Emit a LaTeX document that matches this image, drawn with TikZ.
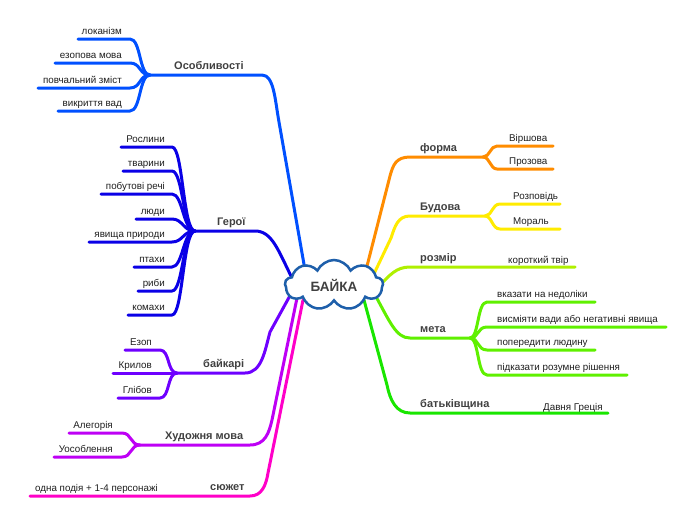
\documentclass[tikz,border=0pt]{standalone}
\usepackage{fontspec}
\setmainfont{Liberation Sans}
\usetikzlibrary{shapes.symbols}
\definecolor{osc}{RGB}{0,80,255}
\definecolor{herc}{RGB}{10,0,230}
\definecolor{bayc}{RGB}{110,0,255}
\definecolor{hudc}{RGB}{190,0,245}
\definecolor{syuc}{RGB}{255,0,200}
\definecolor{forc}{RGB}{255,140,0}
\definecolor{budc}{RGB}{255,235,0}
\definecolor{rozc}{RGB}{175,240,0}
\definecolor{metc}{RGB}{95,240,0}
\definecolor{batc}{RGB}{25,230,0}
\definecolor{cloudc}{RGB}{30,95,170}
\definecolor{leafc}{RGB}{30,30,30}
\definecolor{mainc}{RGB}{64,64,64}
\begin{document}
\begin{tikzpicture}[x=1pt,y=-1pt,
  br/.style={line width=3pt,line cap=round,line join=round},
  lf/.style={font=\fontsize{9.8}{11}\selectfont, text=leafc, inner sep=0pt},
  lfL/.style={lf,anchor=base east},
  lfR/.style={lf,anchor=base west},
  mn/.style={font=\fontsize{11}{13}\selectfont\bfseries, text=mainc, inner sep=0pt, anchor=base west}]
\path[use as bounding box] (0,0) rectangle (696,520);
\coordinate (ctr) at (334,285);

% ---------- Особливості ----------
\coordinate (osH) at (150,75); \coordinate (osE) at (262,75); \coordinate (osC) at (305,270);
\node[mn] (os) at (174,69) {Особливості};
\draw[br,osc] (osH) -- (osE) .. controls (274,75) and (275,100) .. (279,122) -- (osC);
\foreach \n/\sx/\y/\t in {1/78/39/локанізм, 2/55/63/езопова мова, 3/38/88/повчальний зміст, 4/58/111/викриття вад}{
  \coordinate (osa\n) at (\sx,\y); \coordinate (osb\n) at (130,\y);
  \node[lfL] (osl\n) at (122,\y-5) {\t};
  \draw[br,osc] (osa\n) -- (osb\n) .. controls (141,\y) and (139,75) .. (osH);
}

% ---------- Герої ----------
\coordinate (heH) at (195,231); \coordinate (heE) at (255,231); \coordinate (heC) at (292,278);
\node[mn] (he) at (217,225) {Герої};
\draw[br,herc] (heH) -- (heE) .. controls (272,231) and (278,250) .. (heC);
\foreach \n/\sx/\y/\t in {1/121/147/Рослини, 2/123/171/тварини, 3/101/194/побутові речі, 4/136/219/люди, 5/89/242/явища природи, 6/134/267/птахи, 7/138/291/риби, 8/128/315/комахи}{
  \coordinate (hea\n) at (\sx,\y); \coordinate (heb\n) at (172,\y);
  \node[lfL] (hel\n) at (165,\y-5) {\t};
  \draw[br,herc] (hea\n) -- (heb\n) .. controls (183,\y) and (183,231) .. (heH);
}

% ---------- байкарі ----------
\coordinate (baH) at (177,373); \coordinate (baE) at (245,373); \coordinate (baC) at (292,292);
\node[mn] (ba) at (203,367) {байкарі};
\draw[br,bayc] (baH) -- (baE) .. controls (262,373) and (265,350) .. (270,332) -- (baC);
\foreach \n/\sx/\y/\t in {1/125/350/Езоп, 3/118/398/Глібов}{
  \coordinate (baa\n) at (\sx,\y); \coordinate (bab\n) at (160,\y);
  \node[lfL] (bal\n) at (152,\y-5) {\t};
  \draw[br,bayc] (baa\n) -- (bab\n) .. controls (170,\y) and (167,373) .. (baH);
}
\coordinate (baa2) at (113,373);
\node[lfL] (bal2) at (152,368) {Крилов};
\draw[br,bayc] (baa2) -- (baH);

% ---------- Художня мова ----------
\coordinate (huH) at (140,445); \coordinate (huE) at (250,445); \coordinate (huC) at (297,298);
\node[mn] (hu) at (165,439) {Художня мова};
\draw[br,hudc] (huH) -- (huE) .. controls (265,445) and (269,433) .. (272,420) -- (huC);
\foreach \n/\sx/\y/\t in {1/69/433/Алегорія, 2/54/457/Уособлення}{
  \coordinate (hua\n) at (\sx,\y); \coordinate (hub\n) at (122,\y);
  \node[lfL] (hul\n) at (113,\y-5) {\t};
  \draw[br,hudc] (hua\n) -- (hub\n) .. controls (132,\y) and (130,445) .. (huH);
}

% ---------- сюжет ----------
\coordinate (syS) at (30,496); \coordinate (syE) at (250,496); \coordinate (syC) at (303,300);
\node[mn] (sy) at (210,490) {сюжет};
\node[lfR] (syl) at (35,491) {одна подія + 1-4 персонажі};
\draw[br,syuc] (syS) -- (syE) .. controls (262,496) and (266,485) .. (268,473) -- (syC);

% ---------- форма ----------
\coordinate (foH) at (483,157); \coordinate (foE) at (410,157); \coordinate (foC) at (366,270);
\node[mn] (fo) at (420,151) {форма};
\draw[br,forc] (foH) -- (foE) .. controls (396,157) and (393,165) .. (390,176) -- (foC);
\foreach \n/\y/\t in {1/146/Віршова, 2/169/Прозова}{
  \coordinate (foa\n) at (497,\y); \coordinate (fob\n) at (553,\y);
  \node[lfR] (fol\n) at (509,\y-5) {\t};
  \draw[br,forc] (fob\n) -- (foa\n) .. controls (490,\y) and (490,157) .. (foH);
}

% ---------- Будова ----------
\coordinate (buH) at (485,216); \coordinate (buE) at (410,216); \coordinate (buC) at (372,278);
\node[mn] (bu) at (420,210) {Будова};
\draw[br,budc] (buH) -- (buE) .. controls (398,216) and (395,226) .. (391,238) -- (buC);
\foreach \n/\y/\t in {1/204/Розповідь, 2/229/Мораль}{
  \coordinate (bua\n) at (500,\y); \coordinate (bub\n) at (560,\y);
  \node[lfR] (bul\n) at (513,\y-5) {\t};
  \draw[br,budc] (bub\n) -- (bua\n) .. controls (492,\y) and (492,216) .. (buH);
}

% ---------- розмір ----------
\coordinate (roS) at (410,267); \coordinate (roE) at (575,267); \coordinate (roC) at (378,287);
\node[mn] (ro) at (420,261) {розмір};
\node[lfR] (rol) at (508,263) {короткий твір};
\draw[br,rozc] (roE) -- (roS) .. controls (396,267) and (390,275) .. (roC);

% ---------- мета ----------
\coordinate (meH) at (470,338); \coordinate (meE) at (410,338); \coordinate (meC) at (374,293);
\node[mn] (me) at (420,332) {мета};
\draw[br,metc] (meH) -- (meE) .. controls (396,338) and (390,322) .. (meC);
\foreach \n/\y/\ex/\t in {1/302/595/вказати на недоліки, 2/327/666/висміяти вади або негативні явища, 3/350/595/попередити людину, 4/375/627/підказати розумне рішення}{
  \coordinate (mea\n) at (487,\y); \coordinate (meb\n) at (\ex,\y);
  \node[lfR] (mel\n) at (497,\y-5) {\t};
  \draw[br,metc] (meb\n) -- (mea\n) .. controls (477,\y) and (479,338) .. (meH);
}

% ---------- батьківщина ----------
\coordinate (btS) at (410,413); \coordinate (btE) at (608,413); \coordinate (btC) at (364,300);
\node[mn] (bt) at (420,407) {батьківщина};
\node[lfR] (btl) at (543,410) {Давня Греція};
\draw[br,batc] (btE) -- (btS) .. controls (396,413) and (390,400) .. (387,385) -- (btC);

% ---------- cloud ----------
\node[cloud, cloud puffs=9, cloud puff arc=130, aspect=2, draw=cloudc, line width=2.5pt, fill=white,
  minimum width=98pt, minimum height=50pt, inner sep=0pt,
  font=\fontsize{13.5}{15}\selectfont\bfseries, text=mainc] (cl) at (ctr) {БАЙКА};
\end{tikzpicture}
\end{document}
